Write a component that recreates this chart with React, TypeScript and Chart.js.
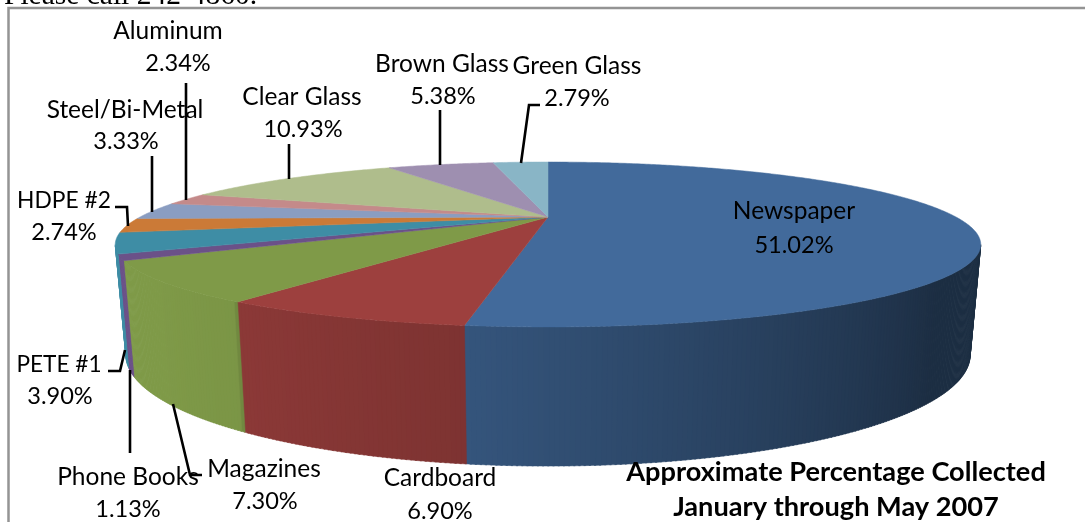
import React, { useEffect, useRef } from "react";
import { Chart, registerables } from "chart.js";

Chart.register(...registerables);

const categories = ["Newspaper", "Cardboard", "Magazines", "Phone Books", "PETE #1", "HDPE #2", "Steel/Bi-Metal", "Aluminum", "Clear Glass", "Brown Glass", "Green Glass"];
const percentages = [51.02, 6.9, 7.3, 1.13, 3.9, 2.74, 3.33, 2.34, 10.93, 5.38, 2.79];
const sliceColors = ["#426A9B", "#9D403E", "#7F9A48", "#6B5188", "#3E8DA5", "#CB7A37", "#8A9DC1", "#C48A8A", "#AFBD8C", "#9E8FB0", "#89B5C6"];
const titleLines = ["Approximate Percentage Collected", "January through May 2007"];
const noteLine = "Please call 242-4860.";

// label anchors: [name x, name baseline, value x, value baseline], in category order
const labelAnchors = [
  [794, 219, 794, 253],
  [440, 486, 440, 519],
  [264, 477, 265, 509],
  [128, 485, 128, 517],
  [59, 372, 60, 404],
  [64, 208, 64, 240],
  [125, 118, 126, 149],
  [168, 39, 178, 71],
  [302, 105, 303, 137],
  [442, 72, 443, 104],
  [577, 74, 577, 106],
];
const nameFontSizes = [24.5, 24.5, 24.5, 24.5, 22.6, 22.8, 24.5, 24.5, 24.5, 24.5, 24.5];
const leaders: number[][][] = [
  [],
  [],
  [[173, 404], [190, 475], [202, 475]],
  [[130, 370], [130, 453]],
  [[108, 371], [120, 371], [125, 350]],
  [[115, 207], [127, 207], [128, 226]],
  [[152, 156], [152, 212]],
  [[186, 83], [186, 200]],
  [[289, 144], [289, 179]],
  [[440, 110], [440, 165]],
  [[540, 105], [529, 105], [521, 163]],
];

const CX = 548;
const K = 1 / 3;
const TOP = { y0: 217, a: 408, b: 73.3 };
const BOTTOM = { y0: 318, a: 398, b: 98.7 };

function project(theta: number, r: number, plane: { y0: number; a: number; b: number }) {
  const u = r * Math.sin(theta);
  const v = -r * Math.cos(theta);
  const w = 1 - K * v;
  return [CX + (plane.a * u) / w, plane.y0 + (plane.b * v) / w];
}

function shade(hex: string, f: number) {
  const n = parseInt(hex.slice(1), 16);
  const c = [(n >> 16) & 255, (n >> 8) & 255, n & 255].map((x) => Math.round(x * f));
  return `rgb(${c[0]},${c[1]},${c[2]})`;
}

function wallFactor(thetaDeg: number) {
  if (thetaDeg < 132) return 0.43;
  if (thetaDeg < 188) return 0.43 + (thetaDeg - 132) * 0.0066;
  if (thetaDeg < 214) return 0.8 + (thetaDeg - 188) * 0.0035;
  return Math.min(1, 0.97 + (thetaDeg - 214) * 0.002);
}

const pie3d = {
  id: "pie3d",
  beforeDatasetDraw(chart: any) {
    const ctx = chart.ctx as CanvasRenderingContext2D;
    const arcs = chart.getDatasetMeta(0).data as any[];
    const STEP = Math.PI / 360;
    const span = (arc: any) => {
      const s = arc.startAngle + Math.PI / 2;
      const e = arc.endAngle + Math.PI / 2;
      const n = Math.max(1, Math.ceil((e - s) / STEP));
      return { s, n, d: (e - s) / n };
    };
    ctx.save();
    arcs.forEach((arc, i) => {
      const { s, n, d } = span(arc);
      for (let j = 0; j < n; j++) {
        const t0 = s + j * d;
        const t1 = s + (j + 1) * d + 0.003;
        // only the wall facing the viewer, up to the silhouette of the projected rim
        if (-Math.cos((t0 + t1) / 2) < K) continue;
        const pts = [project(t0, 1, TOP), project(t1, 1, TOP), project(t1, 1, BOTTOM), project(t0, 1, BOTTOM)];
        const col = shade(sliceColors[i], wallFactor(((t0 + t1) / 2) * (180 / Math.PI)));
        ctx.fillStyle = col;
        ctx.strokeStyle = col;
        ctx.lineWidth = 0.5;
        ctx.beginPath();
        pts.forEach((p, m) => (m ? ctx.lineTo(p[0], p[1]) : ctx.moveTo(p[0], p[1])));
        ctx.closePath();
        ctx.fill();
        ctx.stroke();
      }
    });
    arcs.forEach((arc, i) => {
      const { s, n, d } = span(arc);
      ctx.fillStyle = sliceColors[i];
      ctx.strokeStyle = sliceColors[i];
      ctx.lineWidth = 0.5;
      ctx.beginPath();
      const o = project(0, 0, TOP);
      ctx.moveTo(o[0], o[1]);
      for (let j = 0; j <= n; j++) {
        const p = project(s + j * d, 1, TOP);
        ctx.lineTo(p[0], p[1]);
      }
      ctx.closePath();
      ctx.fill();
      ctx.stroke();
    });
    ctx.restore();
    return false;
  },
  afterDraw(chart: any) {
    const ctx = chart.ctx as CanvasRenderingContext2D;
    ctx.save();
    ctx.fillStyle = "#000";
    ctx.font = '29.5px "Liberation Serif"';
    ctx.textAlign = "left";
    ctx.fillText(noteLine, 4, 4);

    ctx.strokeStyle = "#949494";
    ctx.lineWidth = 2.5;
    ctx.beginPath();
    ctx.moveTo(8.5, 522);
    ctx.lineTo(8.5, 8);
    ctx.lineTo(1085, 8);
    ctx.stroke();

    ctx.strokeStyle = "#000";
    ctx.lineWidth = 2.6;
    leaders.forEach((line) => {
      if (!line.length) return;
      ctx.beginPath();
      line.forEach((p, m) => (m ? ctx.lineTo(p[0], p[1]) : ctx.moveTo(p[0], p[1])));
      ctx.stroke();
    });

    ctx.textAlign = "center";
    categories.forEach((name, i) => {
      const a = labelAnchors[i];
      ctx.font = `${nameFontSizes[i]}px Lato`;
      ctx.fillText(name, a[0], a[1]);
      ctx.font = "23.6px Lato";
      ctx.fillText(percentages[i].toFixed(2) + "%", a[2], a[3]);
    });
    ctx.font = "bold 27.2px Lato";
    ctx.fillText(titleLines[0], 836, 481);
    ctx.fillText(titleLines[1], 836, 516);
    ctx.restore();
  },
};

export default function App() {
  const ref = useRef<HTMLCanvasElement>(null);
  useEffect(() => {
    const chart = new Chart(ref.current!, {
      type: "pie",
      data: {
        labels: categories,
        datasets: [{ data: percentages, backgroundColor: sliceColors, borderWidth: 0 }],
      },
      options: {
        responsive: false,
        animation: false,
        plugins: { legend: { display: false }, tooltip: { enabled: false }, title: { display: false } },
      },
      plugins: [pie3d],
    });
    return () => chart.destroy();
  }, []);
  return (
    <div style={{ position: "fixed", left: 0, top: 0, width: 1085, height: 522, background: "#fff" }}>
      <canvas ref={ref} width={1085} height={522} style={{ display: "block" }} />
    </div>
  );
}
